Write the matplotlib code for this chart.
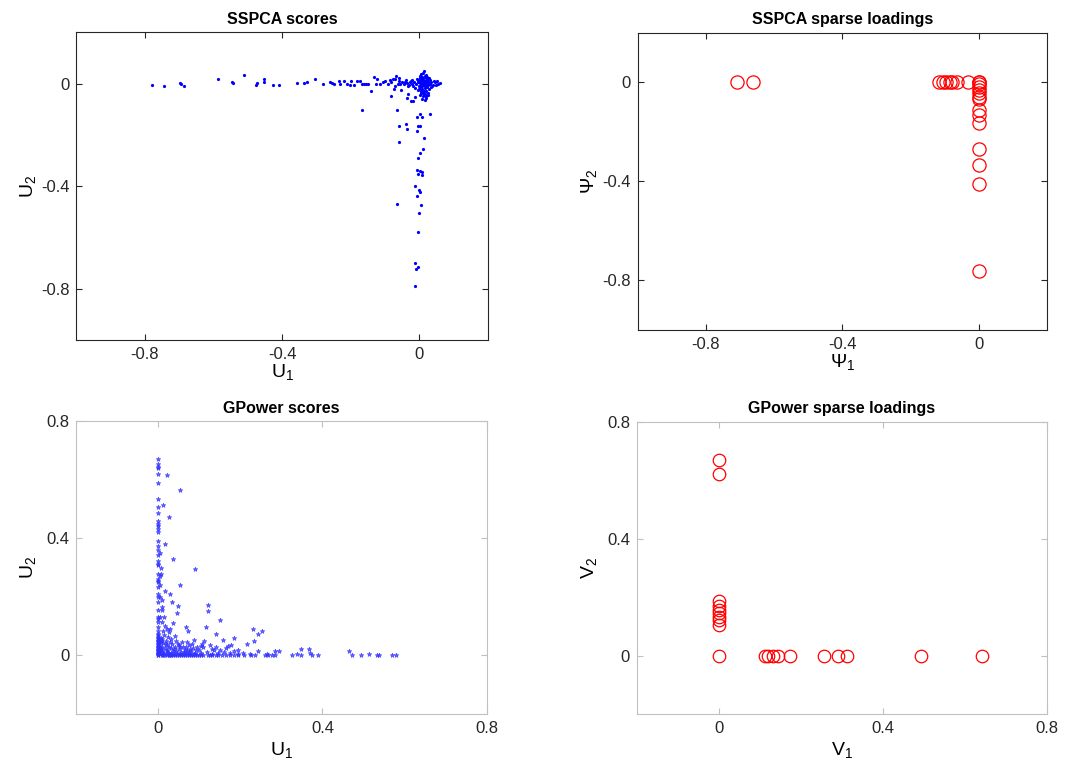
import numpy as np
import matplotlib
matplotlib.use("Agg")
import matplotlib.pyplot as plt

plt.rcParams['font.family'] = ['Liberation Sans', 'DejaVu Sans']
plt.rcParams['mathtext.fontset'] = 'custom'
plt.rcParams['mathtext.rm'] = 'Liberation Sans'
plt.rcParams['mathtext.it'] = 'Liberation Sans'
plt.rcParams['axes.unicode_minus'] = False

# SSPCA scores (U1, U2)
sspca_scores = [
    (-0.778, -0.004), (-0.743, -0.008), (-0.699, 0.001), (-0.696, 0.0), (-0.686, -0.009),
    (-0.587, 0.017), (-0.545, 0.006), (-0.542, 0.003), (-0.512, 0.034), (-0.477, -0.004),
    (-0.474, 0.004), (-0.454, 0.016), (-0.453, 0.006), (-0.428, -0.004), (-0.41, -0.004),
    (-0.357, 0.004), (-0.337, 0.004), (-0.327, 0.008), (-0.303, 0.019), (-0.28, -0.003),
    (-0.26, 0.005), (-0.255, 0.003), (-0.25, 0.0), (-0.234, 0.01), (-0.23, 0.0),
    (-0.219, 0.01), (-0.21, 0.0), (-0.203, -0.006), (-0.198, 0.01), (-0.19, -0.004),
    (-0.181, 0.009), (-0.174, 0.009), (-0.167, 0.0), (-0.161, 0.0), (-0.155, -0.003),
    (-0.15, -0.003), (-0.132, 0.025), (-0.123, 0.017), (-0.126, 0.0), (-0.116, 0.0),
    (-0.106, 0.006), (-0.1, 0.01), (-0.092, 0.0), (-0.087, 0.013), (-0.082, 0.006),
    (-0.077, 0.016), (-0.074, -0.021), (-0.071, 0.016), (-0.067, 0.029), (-0.063, 0.0),
    (-0.142, -0.03), (-0.084, -0.049), (-0.054, -0.027), (-0.034, -0.04), (-0.037, -0.057),
    (-0.024, -0.069), (-0.019, -0.069), (-0.012, -0.051), (0.013, -0.045),
    # dense cluster around the origin
    (0.005, 0.0), (0.01, 0.005), (0.015, -0.005), (0.0, 0.01), (0.02, 0.0),
    (0.008, -0.01), (0.012, 0.015), (0.018, 0.02), (0.003, -0.015), (0.022, -0.012),
    (0.025, 0.008), (0.03, 0.0), (0.035, 0.005), (0.04, -0.004), (0.045, 0.006),
    (0.06, 0.004), (0.05, 0.01), (0.028, -0.02), (0.015, 0.03), (0.012, 0.04),
    (0.014, 0.048), (0.008, 0.025), (0.02, 0.035), (-0.005, 0.005), (-0.01, -0.003),
    (-0.015, 0.008), (-0.02, 0.0), (-0.025, 0.01), (-0.03, -0.004), (-0.035, 0.004),
    (-0.04, 0.012), (-0.045, 0.0), (-0.05, 0.006), (-0.055, -0.002), (-0.06, 0.01),
    (-0.058, 0.02), (-0.07, -0.008), (0.0, -0.02), (0.005, -0.028), (0.01, -0.035),
    (0.015, -0.04), (0.02, -0.03), (-0.005, -0.025), (-0.012, -0.018), (0.003, -0.045),
    (0.012, -0.05), (0.018, -0.055), (0.025, -0.045), (0.002, 0.02), (-0.008, 0.018),
    (0.016, 0.01), (0.006, 0.012), (0.024, 0.016), (0.032, 0.012), (0.038, -0.01),
    (0.028, 0.022), (0.001, 0.004), (0.004, -0.006), (0.009, 0.008), (0.011, -0.002),
    (0.013, 0.002), (0.017, -0.009), (0.019, 0.006), (0.021, 0.012), (0.023, -0.004),
    (0.007, 0.016), (-0.002, -0.01), (-0.003, 0.014), (0.01, 0.022), (0.016, -0.018),
    (0.026, -0.006), (0.033, -0.012), (0.042, 0.01), (0.048, -0.006), (0.055, 0.0),
    (0.003, 0.03), (0.006, 0.038), (0.009, -0.022), (0.014, -0.03), (0.022, 0.026),
    (-0.018, -0.008), (-0.022, 0.015), (-0.028, 0.006), (-0.032, -0.01), (-0.042, 0.005),
    (0.004, -0.036), (0.008, -0.06), (0.016, -0.065), (0.02, -0.05), (0.024, -0.038),
    # vertical branch
    (-0.065, -0.104), (0.003, -0.117), (-0.008, -0.13), (0.007, -0.13), (0.03, -0.117),
    (-0.039, -0.156), (-0.058, -0.166), (-0.003, -0.166), (0.001, -0.166), (-0.037, -0.177),
    (-0.006, -0.184), (0.014, -0.212), (-0.058, -0.229), (0.011, -0.256), (0.001, -0.271),
    (-0.003, -0.292), (-0.007, -0.339), (0.003, -0.34), (0.009, -0.343), (-0.005, -0.353),
    (0.009, -0.358), (-0.013, -0.401), (-0.001, -0.414), (0.003, -0.421), (-0.006, -0.439),
    (-0.066, -0.469), (0.004, -0.474), (-0.002, -0.506), (-0.003, -0.578), (-0.012, -0.701),
    (-0.003, -0.714), (-0.011, -0.722), (-0.013, -0.79), (-0.167, -0.105),
]

# SSPCA sparse loadings (Psi1, Psi2)
sspca_psi1 = [-0.708, -0.663, -0.116, -0.106, -0.097, -0.083, -0.077, -0.063, -0.032,
              0.0, 0.0, 0.0, 0.0, 0.0, 0.0, 0.0, 0.0, 0.0, 0.0, 0.0, 0.0, 0.0, 0.0, 0.0]
sspca_psi2 = [0.0, 0.0, 0.0, 0.0, 0.0, 0.0, 0.0, 0.0, 0.0,
              0.0, -0.007, -0.02, -0.034, -0.044, -0.061, -0.067, -0.114, -0.135, -0.164,
              -0.272, -0.333, -0.413, -0.761, 0.0]

# GPower scores (U1, U2)
gpower_axis_u2 = [0.67, 0.655, 0.645, 0.64, 0.619, 0.59, 0.536, 0.509, 0.487, 0.458, 0.45,
                  0.442, 0.433, 0.422, 0.392, 0.374, 0.362, 0.344, 0.324, 0.313, 0.308, 0.28,
                  0.26, 0.256, 0.251, 0.234, 0.211, 0.2, 0.182, 0.154, 0.133, 0.125, 0.114,
                  0.097, 0.085, 0.074, 0.07, 0.063, 0.06, 0.055, 0.05, 0.048, 0.045, 0.04,
                  0.038, 0.033, 0.03, 0.027, 0.025, 0.02, 0.018, 0.014, 0.012, 0.008, 0.006,
                  0.004, 0.002, 0.0]
gpower_scores = [
    (0.02, 0.618), (0.054, 0.564), (0.011, 0.515), (0.026, 0.473), (0.017, 0.382),
    (0.035, 0.33), (0.089, 0.295), (0.054, 0.24), (0.007, 0.279), (0.017, 0.222),
    (0.028, 0.209), (0.008, 0.19), (0.034, 0.182), (0.047, 0.168), (0.045, 0.146),
    (0.12, 0.174), (0.12, 0.153), (0.15, 0.12), (0.009, 0.154), (0.015, 0.133),
    (0.036, 0.11), (0.028, 0.092), (0.067, 0.096), (0.072, 0.082), (0.115, 0.097),
    (0.141, 0.073), (0.23, 0.092), (0.252, 0.084), (0.244, 0.073), (0.184, 0.059),
    (0.158, 0.054), (0.233, 0.05), (0.215, 0.04), (0.178, 0.036), (0.17, 0.032),
    (0.107, 0.04), (0.103, 0.034), (0.111, 0.051), (0.086, 0.052), (0.069, 0.046),
    (0.077, 0.023), (0.348, 0.023), (0.367, 0.023), (0.295, 0.017), (0.284, 0.017),
    (0.338, 0.006), (0.37, 0.008), (0.465, 0.014), (0.513, 0.006), (0.243, 0.014),
    (0.193, 0.02), (0.15, 0.02), (0.13, 0.022), (0.206, 0.008), (0.223, 0.006),
    (0.265, 0.006),
    # baseline
    (0.01, 0.0), (0.015, 0.0), (0.02, 0.0), (0.025, 0.0), (0.03, 0.0), (0.035, 0.0),
    (0.04, 0.0), (0.045, 0.0), (0.05, 0.0), (0.055, 0.0), (0.06, 0.0), (0.065, 0.0),
    (0.07, 0.0), (0.075, 0.0), (0.08, 0.0), (0.085, 0.0), (0.09, 0.0), (0.095, 0.0),
    (0.1, 0.0), (0.105, 0.0), (0.11, 0.0), (0.12, 0.0), (0.125, 0.0), (0.13, 0.0),
    (0.14, 0.0), (0.145, 0.0), (0.155, 0.0), (0.165, 0.0), (0.175, 0.0), (0.185, 0.0),
    (0.195, 0.0), (0.21, 0.0), (0.225, 0.0), (0.235, 0.0), (0.261, 0.0), (0.267, 0.0),
    (0.277, 0.0), (0.285, 0.0), (0.326, 0.0), (0.347, 0.0), (0.375, 0.0), (0.39, 0.0),
    (0.472, 0.0), (0.493, 0.0), (0.532, 0.0), (0.537, 0.0), (0.57, 0.0), (0.578, 0.0),
    # dense block near the origin
    (0.005, 0.005), (0.01, 0.012), (0.015, 0.008), (0.02, 0.018), (0.025, 0.01),
    (0.03, 0.025), (0.008, 0.03), (0.012, 0.042), (0.018, 0.05), (0.022, 0.035),
    (0.028, 0.045), (0.035, 0.015), (0.04, 0.03), (0.045, 0.008), (0.05, 0.022),
    (0.055, 0.012), (0.06, 0.03), (0.065, 0.018), (0.07, 0.008), (0.075, 0.035),
    (0.08, 0.015), (0.085, 0.025), (0.09, 0.01), (0.095, 0.03), (0.1, 0.018),
    (0.006, 0.06), (0.014, 0.07), (0.024, 0.062), (0.032, 0.055), (0.04, 0.065),
    (0.048, 0.04), (0.058, 0.045), (0.004, 0.018), (0.003, 0.025), (0.007, 0.045),
    (0.01, 0.055), (0.016, 0.025), (0.02, 0.005), (0.026, 0.028), (0.034, 0.04),
    (0.038, 0.005), (0.042, 0.048), (0.052, 0.006), (0.062, 0.004), (0.068, 0.03),
    (0.074, 0.012), (0.082, 0.04), (0.088, 0.005), (0.092, 0.02), (0.105, 0.01),
    (0.11, 0.028), (0.118, 0.012), (0.125, 0.035), (0.13, 0.006), (0.135, 0.018),
    (0.14, 0.03), (0.145, 0.008), (0.16, 0.012), (0.165, 0.025), (0.175, 0.01),
    (0.185, 0.016), (0.195, 0.006), (0.002, 0.01), (0.004, 0.035), (0.006, 0.05),
    (0.009, 0.02), (0.012, 0.003), (0.018, 0.038), (0.022, 0.015), (0.028, 0.003),
    (0.031, 0.008), (0.037, 0.022), (0.044, 0.017), (0.05, 0.035), (0.054, 0.028),
    (0.063, 0.012), (0.071, 0.02), (0.078, 0.005), (0.012, 0.085), (0.02, 0.09),
    (0.016, 0.1), (0.01, 0.115), (0.025, 0.08), (0.005, 0.13), (0.008, 0.165),
    (0.005, 0.2), (0.004, 0.24), (0.006, 0.3), (0.003, 0.35), (0.004, 0.27),
]

# GPower sparse loadings (V1, V2)
gpower_v1 = [0.0, 0.0, 0.0, 0.0, 0.0, 0.0, 0.0, 0.0, 0.0, 0.0,
             0.112, 0.119, 0.131, 0.145, 0.173, 0.255, 0.291, 0.312, 0.492, 0.642]
gpower_v2 = [0.67, 0.622, 0.186, 0.171, 0.156, 0.145, 0.133, 0.12, 0.105, 0.0,
             0.0, 0.0, 0.0, 0.0, 0.0, 0.0, 0.0, 0.0, 0.0, 0.0]


def style_axes(ax, ticks_x, ticks_y, lim_x, lim_y, edge):
    ax.set_xlim(lim_x)
    ax.set_ylim(lim_y)
    ax.set_xticks(ticks_x)
    ax.set_yticks(ticks_y)
    ax.set_xticklabels(['%g' % t for t in ticks_x])
    ax.set_yticklabels(['%g' % t for t in ticks_y])
    ax.tick_params(direction='in', top=True, right=True, length=4, width=0.8,
                   color=edge, labelcolor='#262626', labelsize=12, pad=5)
    for s in ax.spines.values():
        s.set_color(edge)
        s.set_linewidth(0.8)


fig = plt.figure(figsize=(10.65, 7.72), dpi=100)
ax1 = fig.add_axes([0.0716, 0.5596, 0.3866, 0.3986])
ax2 = fig.add_axes([0.5986, 0.5729, 0.3845, 0.3850])
ax3 = fig.add_axes([0.0716, 0.0751, 0.3853, 0.3791])
ax4 = fig.add_axes([0.5981, 0.0751, 0.3850, 0.3789])

s = np.array(sspca_scores)
ax1.plot(s[:, 0], s[:, 1], 'o', color='blue', ms=2.3, mew=0)
style_axes(ax1, [-0.8, -0.4, 0], [-0.8, -0.4, 0], (-1, 0.2), (-1, 0.2), '#262626')
ax1.set_title('SSPCA scores', fontsize=11.5, fontweight='bold', pad=6)
ax1.set_xlabel(r'$\mathrm{U}_1$', fontsize=14, labelpad=0)
ax1.set_ylabel(r'$\mathrm{U}_2$', fontsize=14, labelpad=2)

ax2.plot(sspca_psi1, sspca_psi2, 'o', mfc='none', mec='red', ms=9.5, mew=0.9)
style_axes(ax2, [-0.8, -0.4, 0], [-0.8, -0.4, 0], (-1, 0.2), (-1, 0.2), '#262626')
ax2.set_title('SSPCA sparse loadings', fontsize=11.5, fontweight='bold', pad=6)
ax2.set_xlabel(r'$\Psi_1$', fontsize=14, labelpad=0)
ax2.set_ylabel(r'$\Psi_2$', fontsize=14, labelpad=2)

g = np.array(gpower_scores)
gx = np.concatenate([np.zeros(len(gpower_axis_u2)), g[:, 0]])
gy = np.concatenate([gpower_axis_u2, g[:, 1]])
ax3.plot(gx, gy, '*', color='#3030ff', alpha=0.75, ms=3.5, mew=0.5)
style_axes(ax3, [0, 0.4, 0.8], [0, 0.4, 0.8], (-0.2, 0.8), (-0.2, 0.8), '#c0c0c0')
ax3.set_title('GPower scores', fontsize=11.5, fontweight='bold', pad=6)
ax3.set_xlabel(r'$\mathrm{U}_1$', fontsize=14, labelpad=3)
ax3.set_ylabel(r'$\mathrm{U}_2$', fontsize=14, labelpad=6)

ax4.plot(gpower_v1, gpower_v2, 'o', mfc='none', mec='red', ms=9, mew=0.9)
style_axes(ax4, [0, 0.4, 0.8], [0, 0.4, 0.8], (-0.2, 0.8), (-0.2, 0.8), '#c0c0c0')
ax4.set_title('GPower sparse loadings', fontsize=11.5, fontweight='bold', pad=6)
ax4.set_xlabel(r'$\mathrm{V}_1$', fontsize=14, labelpad=3)
ax4.set_ylabel(r'$\mathrm{V}_2$', fontsize=14, labelpad=6)

fig.savefig('out.png', dpi=100)
